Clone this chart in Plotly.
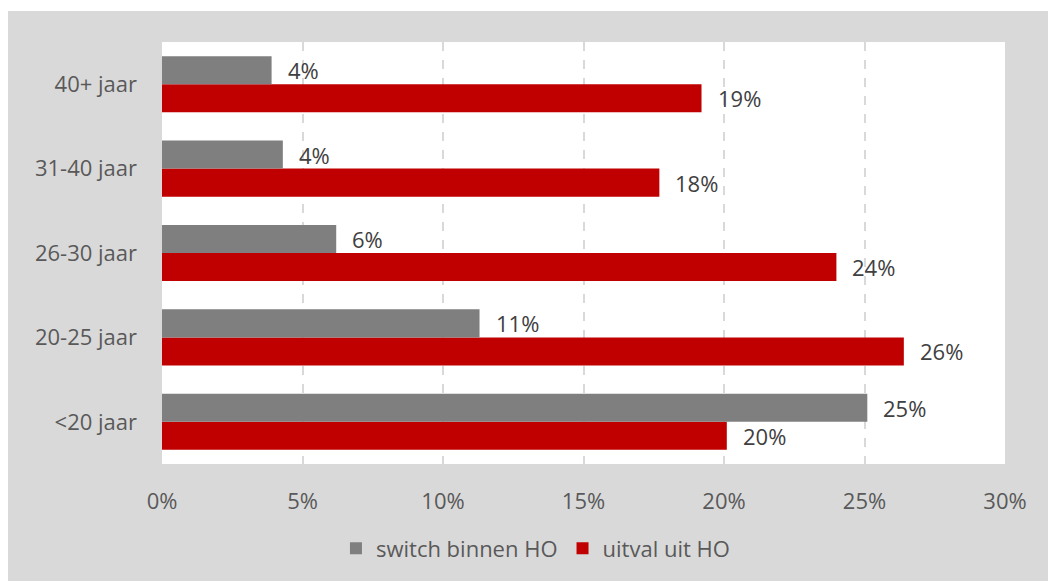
import plotly.graph_objects as go

# Age groups, bottom to top
categories = ["<20 jaar", "20-25 jaar", "26-30 jaar", "31-40 jaar", "40+ jaar"]
switch_binnen_ho = [0.251, 0.113, 0.062, 0.043, 0.039]
uitval_uit_ho = [0.201, 0.264, 0.240, 0.177, 0.192]
x_ticks = [0, 0.05, 0.10, 0.15, 0.20, 0.25, 0.30]

GRAY = "#7f7f7f"
RED = "#c00000"
FONT = "Open Sans"
SIZE = 22

fig = go.Figure()
# uitval first so it sits below switch within each group
fig.add_trace(go.Bar(
    y=categories, x=uitval_uit_ho, orientation="h", name="uitval uit HO",
    marker=dict(color=RED, line=dict(width=0)),
))
fig.add_trace(go.Bar(
    y=categories, x=switch_binnen_ho, orientation="h", name="switch binnen HO",
    marker=dict(color=GRAY, line=dict(width=0)),
))

# value labels just past the end of each bar
annotations = []
for series, shift in ((switch_binnen_ho, 14), (uitval_uit_ho, -14)):
    for cat, v in zip(categories, series):
        annotations.append(dict(
            x=v, y=cat, xref="x", yref="y", text=f"{v:.0%}",
            showarrow=False, xanchor="left", yanchor="middle",
            xshift=14, yshift=shift,
            font=dict(family=FONT, size=SIZE, color="#404040"),
        ))

fig.update_layout(
    width=1048, height=581,
    margin=dict(l=162, r=43, t=42, b=117),
    paper_bgcolor="#d9d9d9",
    plot_bgcolor="white",
    barmode="group",
    bargap=0.335,
    bargroupgap=0,
    font=dict(family=FONT, size=SIZE, color="#595959"),
    xaxis=dict(
        range=[0, 0.30], tickvals=x_ticks, tickformat=".0%",
        showgrid=True, gridcolor="#d9d9d9", griddash="dash", gridwidth=1.5,
        zeroline=False, showline=True, linecolor="#d9d9d9", linewidth=1,
        ticks="", ticklabelstandoff=18,
        tickfont=dict(family=FONT, size=SIZE, color="#595959"),
        fixedrange=True,
    ),
    yaxis=dict(
        showgrid=False, zeroline=False, showline=False,
        ticks="", ticklabelstandoff=24,
        tickfont=dict(family=FONT, size=SIZE, color="#595959"),
        fixedrange=True,
    ),
    legend=dict(
        orientation="h", traceorder="reversed",
        x=0.443, xanchor="center", y=-0.2, yanchor="middle",
        bgcolor="rgba(0,0,0,0)",
        font=dict(family=FONT, size=SIZE, color="#595959"),
        itemclick=False, itemdoubleclick=False,
    ),
    annotations=annotations,
    shapes=[
        # thin white border along the top and left of the page
        dict(type="rect", xref="paper", yref="paper", layer="below",
             x0=-0.3, x1=1.2, y0=(464 - 11) / 422, y1=1.3,
             fillcolor="white", line=dict(width=0)),
        dict(type="rect", xref="paper", yref="paper", layer="below",
             x0=-0.3, x1=(8 - 162) / 843, y0=-0.5, y1=1.3,
             fillcolor="white", line=dict(width=0)),
    ],
    showlegend=True,
)

fig.write_html("out.html", config={"displayModeBar": False})
